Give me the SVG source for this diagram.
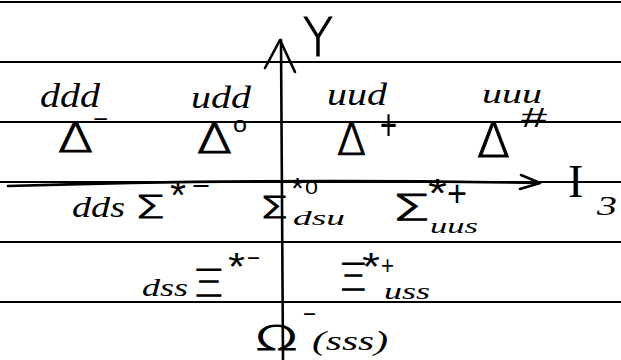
<svg xmlns="http://www.w3.org/2000/svg" width="621" height="360" viewBox="0 0 621 360">
<style>
.rule{stroke:#000;stroke-width:1.8;fill:none}
.ink{stroke:#000;stroke-width:2.6;fill:none;stroke-linecap:round;stroke-linejoin:round}
.q{font-family:"Liberation Serif",serif;font-style:italic;fill:#000}
.r{font-family:"Liberation Serif",serif;font-style:normal;fill:#000}
.g{font-family:"DejaVu Sans","Liberation Sans",sans-serif;font-weight:200;fill:#000;stroke:#000;stroke-width:1.1}
.s{font-family:"Liberation Sans",sans-serif;fill:#000}
</style>
<rect width="621" height="360" fill="#fff"/>
<g id="paper-lines">
<line class="rule" x1="0" y1="2" x2="621" y2="2"/>
<line class="rule" x1="0" y1="62" x2="621" y2="62"/>
<line class="rule" x1="0" y1="122" x2="621" y2="122"/>
<line class="rule" x1="0" y1="182" x2="621" y2="182"/>
<line class="rule" x1="0" y1="242" x2="621" y2="242"/>
<line class="rule" x1="0" y1="302" x2="621" y2="302"/>
</g>
<g id="connectors">
<path class="ink" d="M281,40 L283,360"/>
<polyline class="ink" points="265,68 280,40 295,72"/>
<path class="ink" d="M8,186 Q270,178 540,183" stroke-width="3"/>
<polyline class="ink" points="521,175 540,183 520,189"/>
</g>
<g id="axis-Y"><text class="g" x="303" y="56" font-size="54" textLength="30" lengthAdjust="spacingAndGlyphs">Y</text></g>
<g id="axis-I3">
<text class="r" x="568" y="197" font-size="46">I</text>
<text class="q" x="597" y="215" font-size="28" textLength="20" lengthAdjust="spacingAndGlyphs">3</text>
</g>
<g id="delta-minus">
<text class="q" x="40" y="107" font-size="34" textLength="60" lengthAdjust="spacingAndGlyphs">ddd</text>
<text class="g" x="58" y="152" font-size="40" textLength="35" lengthAdjust="spacingAndGlyphs">Δ</text>
<text class="s" x="93" y="127" font-size="24" textLength="15" lengthAdjust="spacingAndGlyphs">−</text>
</g>
<g id="delta-zero">
<text class="q" x="191" y="108" font-size="32" textLength="60" lengthAdjust="spacingAndGlyphs">udd</text>
<text class="g" x="197" y="153" font-size="40" textLength="35" lengthAdjust="spacingAndGlyphs">Δ</text>
<text class="s" x="233" y="132" font-size="22" textLength="14" lengthAdjust="spacingAndGlyphs">o</text>
</g>
<g id="delta-plus">
<text class="q" x="327" y="105" font-size="32" textLength="60" lengthAdjust="spacingAndGlyphs">uud</text>
<text class="g" x="337" y="155" font-size="44" textLength="29" lengthAdjust="spacingAndGlyphs">Δ</text>
<text class="s" x="380" y="140" font-size="44" textLength="17" lengthAdjust="spacingAndGlyphs">+</text>
</g>
<g id="delta-plusplus">
<text class="q" x="482" y="103" font-size="28" textLength="60" lengthAdjust="spacingAndGlyphs">uuu</text>
<text class="g" x="477" y="157" font-size="48" textLength="33" lengthAdjust="spacingAndGlyphs">Δ</text>
<text class="s" x="521" y="127" font-size="28" textLength="26" lengthAdjust="spacingAndGlyphs">#</text>
</g>
<g id="sigma-minus">
<text class="q" x="72" y="217" font-size="30" textLength="53" lengthAdjust="spacingAndGlyphs">dds</text>
<text class="g" x="135" y="218" font-size="32" textLength="30" lengthAdjust="spacingAndGlyphs">Σ</text>
<text class="s" x="170" y="209" font-size="40" textLength="16" lengthAdjust="spacingAndGlyphs">*</text>
<text class="s" x="192" y="195" font-size="28" textLength="18" lengthAdjust="spacingAndGlyphs">−</text>
</g>
<g id="sigma-zero">
<text class="g" x="260" y="218" font-size="30" textLength="28" lengthAdjust="spacingAndGlyphs">Σ</text>
<text class="s" x="291" y="198" font-size="30" textLength="13" lengthAdjust="spacingAndGlyphs">*</text>
<text class="s" x="305" y="194" font-size="19" textLength="13" lengthAdjust="spacingAndGlyphs">0</text>
<text class="q" x="293" y="225" font-size="22" textLength="52" lengthAdjust="spacingAndGlyphs">dsu</text>
</g>
<g id="sigma-plus">
<text class="g" x="392" y="220" font-size="36" textLength="38" lengthAdjust="spacingAndGlyphs">Σ</text>
<text class="s" x="428" y="207" font-size="40" textLength="19" lengthAdjust="spacingAndGlyphs">*</text>
<text class="s" x="447" y="206" font-size="36" textLength="20" lengthAdjust="spacingAndGlyphs">+</text>
<text class="q" x="430" y="233" font-size="22" textLength="48" lengthAdjust="spacingAndGlyphs">uus</text>
</g>
<g id="xi-minus">
<text class="q" x="142" y="296" font-size="26" textLength="46" lengthAdjust="spacingAndGlyphs">dss</text>
<text class="g" x="192" y="296" font-size="38" textLength="33" lengthAdjust="spacingAndGlyphs">Ξ</text>
<text class="s" x="228" y="280" font-size="38" textLength="17" lengthAdjust="spacingAndGlyphs">*</text>
<text class="s" x="247" y="267" font-size="26" textLength="13" lengthAdjust="spacingAndGlyphs">−</text>
</g>
<g id="xi-plus">
<text class="g" x="338" y="290" font-size="37" textLength="30" lengthAdjust="spacingAndGlyphs">Ξ</text>
<text class="s" x="362" y="280" font-size="38" textLength="18" lengthAdjust="spacingAndGlyphs">*</text>
<text class="s" x="381" y="274" font-size="26" textLength="13" lengthAdjust="spacingAndGlyphs">+</text>
<text class="q" x="384" y="299" font-size="24" textLength="46" lengthAdjust="spacingAndGlyphs">uss</text>
</g>
<g id="omega-minus">
<text class="g" x="255" y="350" font-size="34" textLength="43" lengthAdjust="spacingAndGlyphs">Ω</text>
<text class="s" x="303" y="323" font-size="26" textLength="13" lengthAdjust="spacingAndGlyphs">−</text>
<text class="q" x="312" y="350" font-size="28" textLength="76" lengthAdjust="spacingAndGlyphs">(sss)</text>
</g>
</svg>
